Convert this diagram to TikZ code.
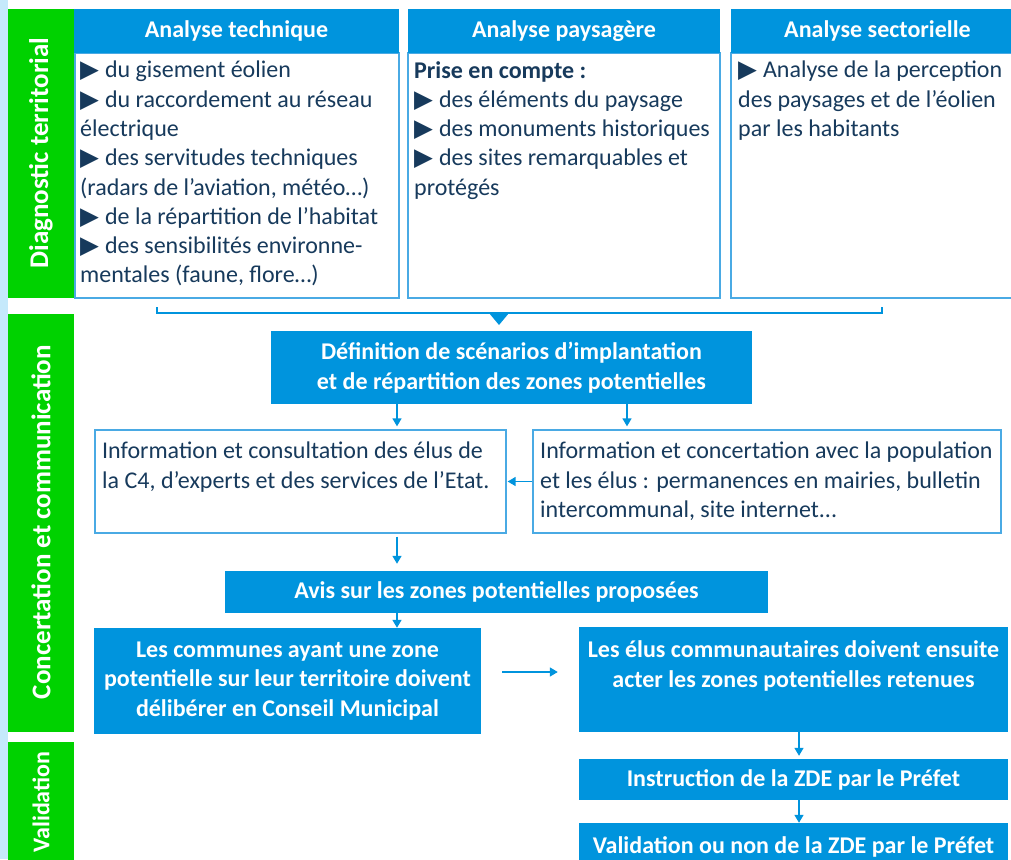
\documentclass[tikz,border=0pt]{standalone}
\usepackage{fontspec}
\setmainfont{Carlito}
\newfontfamily\dejavu{DejaVu Sans}
\usetikzlibrary{arrows.meta}
\definecolor{boxblue}{RGB}{0,148,221}
\definecolor{edgeblue}{RGB}{74,170,228}
\definecolor{navy}{RGB}{23,58,92}
\definecolor{bandgreen}{RGB}{0,210,0}
\definecolor{stripblue}{RGB}{197,233,251}
\newcommand{\tri}{{\dejavu\fontsize{24.5}{24}\selectfont ▶}\hspace{6pt}}
\newcommand{\bodyf}{\fontsize{24}{29.3}\selectfont}
\newcommand{\boldf}{\bfseries\fontsize{24}{29.5}\selectfont}
\newcommand{\bandf}{\bfseries\fontsize{27}{30}\selectfont}
\tikzset{
  band/.style={fill=bandgreen, inner sep=0, minimum width=66pt},
  bandlbl/.style={text=white, font=\bandf, rotate=90, inner sep=0},
  hdr/.style={fill=boxblue, text=white, font=\boldf, inner sep=0, minimum height=44pt},
  bodybox/.style={draw=edgeblue, line width=1.3pt, fill=white, inner sep=0},
  txt/.style={text=navy, font=\bodyf, align=left, anchor=north west, inner sep=0},
  bluebox/.style={fill=boxblue, text=white, font=\boldf, align=center, inner sep=0},
  boldtxt/.style={text=white, font=\boldf, align=center, inner sep=0},
  arr/.style={draw=boxblue, line width=1.5pt, -{Triangle[width=9pt,length=8pt]}},
  brace/.style={draw=boxblue, line width=1.5pt},
}
\begin{document}
\begin{tikzpicture}[x=1pt,y=-1pt]
\path[use as bounding box, clip] (0,0) rectangle (1011,859);
\fill[white] (0,0) rectangle (1011,859);
\fill[stripblue] (0,0) rectangle (8,859);
% bands
\node[band, minimum height=289pt] (b1) at (41,153.5) {};
\node[band, minimum height=418pt] (b2) at (41,523) {};
\node[band, minimum height=128pt] (b3) at (41,806) {};
\node[bandlbl] (l1) at (41,153) {Diagnostic territorial};
\node[bandlbl] (l2) at (41,522) {Concertation et communication};
\node[bandlbl, font=\bfseries\fontsize{24}{28}\selectfont] (l3) at (41,802) {Validation};
% analysis boxes
\node[bodybox, minimum width=324pt, minimum height=245pt] (techB) at (237,175.5) {};
\node[bodybox, minimum width=312pt, minimum height=245pt] (paysB) at (564,175.5) {};
\node[bodybox, minimum width=293pt, minimum height=245pt] (sectB) at (877.5,175.5) {};
\node[hdr, minimum width=325pt] (techH) at (236.5,31) {Analyse technique};
\node[hdr, minimum width=312pt] (paysH) at (564,31) {Analyse paysagère};
\node[hdr, minimum width=293pt] (sectH) at (877.5,31) {Analyse sectorielle};
\node[txt] (techT) at (80,61) {\tri du gisement éolien\\
\tri du raccordement au réseau\\
électrique\\
\tri des servitudes techniques\\
(radars de l’aviation, météo…)\\
\tri de la répartition de l’habitat\\
\tri des sensibilités environne-\\
mentales (faune, flore…)};
\node[txt] (paysT) at (414,61) {\textbf{Prise en compte :}\\
\tri des éléments du paysage\\
\tri des monuments historiques\\
\tri des sites remarquables et\\
protégés};
\node[txt] (sectT) at (738,61) {\tri Analyse de la perception\\
des paysages et de l’éolien\\
par les habitants};
% bracket
\coordinate (brL) at (157,307);
\coordinate (brR) at (882,307);
\draw[brace] (brL) -- ++(0,6) -| (brR);
\fill[boxblue] (489,313) -- (509,313) -- (499,325) -- cycle;
% flow
\node[bluebox, minimum width=481pt, minimum height=73pt] (def) at (511.5,367.5)
  {Définition de scénarios d’implantation\\et de répartition des zones potentielles};
\node[bodybox, minimum width=411pt, minimum height=103pt] (infoL) at (300.5,481.5) {};
\node[bodybox, minimum width=468pt, minimum height=103pt] (infoR) at (767,481.5) {};
\node[txt] (infoLT) at (102,442) {Information et consultation des élus de\\la C4, d’experts et des services de l’Etat.};
\node[txt] (infoRT) at (540,442) {Information et concertation avec la population\\et les élus : permanences en mairies, bulletin\\intercommunal, site internet...};
\node[bluebox, minimum width=543pt, minimum height=42pt] (avis) at (496.5,592) {Avis sur les zones potentielles proposées};
\node[bluebox, minimum width=387pt, minimum height=106pt] (comm) at (287.5,681)
  {Les communes ayant une zone\\potentielle sur leur territoire doivent\\délibérer en Conseil Municipal};
\node[bluebox, minimum width=429pt, minimum height=105pt] (elus) at (793.5,679.5) {};
\node[boldtxt] (elusT) at (793.5,666) {Les élus communautaires doivent ensuite\\acter les zones potentielles retenues};
\node[bluebox, minimum width=429pt, minimum height=41pt] (instr) at (793.5,779.5) {Instruction de la ZDE par le Préfet};
\node[bluebox, minimum width=429pt, minimum height=57pt] (valid) at (793.5,851.5) {};
\node[boldtxt] (validT) at (793.5,846.5) {Validation ou non de la ZDE par le Préfet};
% connectors
\coordinate (colA) at (397,0);
\coordinate (colB) at (627,0);
\coordinate (colC) at (799,0);
\coordinate (rowB) at (0,672);
\draw[arr, shorten >=3pt] (def.south -| colA) -- (infoL.north -| colA);
\draw[arr, shorten >=3pt] (def.south -| colB) -- (infoR.north -| colB);
\draw[arr, shorten >=1pt] (infoR.west) -- (infoL.east);
\draw[arr, shorten <=3pt, shorten >=7pt] (infoL.south -| colA) -- (avis.north -| colA);
\draw[arr] (avis.south -| colA) -- (comm.north -| colA);
\draw[arr, shorten <=21pt, shorten >=21pt] (comm.east |- rowB) -- (elus.west |- rowB);
\draw[arr, shorten >=3pt] (elus.south -| colC) -- (instr.north -| colC);
\draw[arr] (instr.south -| colC) -- (valid.north -| colC);
\end{tikzpicture}
\end{document}
